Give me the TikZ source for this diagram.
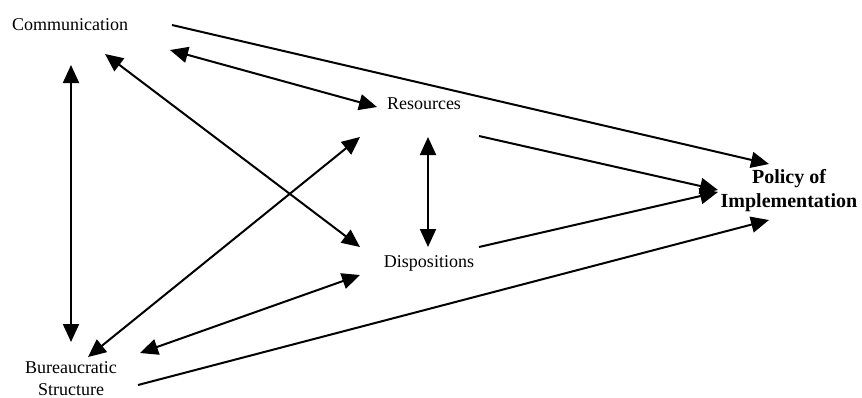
\documentclass[tikz,border=0pt]{standalone}
\usepackage{fontspec}
\setmainfont{Liberation Serif}
\usetikzlibrary{arrows.meta}

\begin{document}
\begin{tikzpicture}[x=0.5pt,y=-0.5pt]
        \tikzstyle{every node}=[inner sep=0pt, font=\fontsize{9}{11}\selectfont]
        \tikzstyle{factor}=[align=center]
        \tikzstyle{goal}=[align=center, font=\fontsize{10}{12}\selectfont\bfseries]
        \tikzstyle{link}=[line width=1pt, -{Triangle[length=9pt,width=8pt]}]
        \tikzstyle{both}=[line width=1pt, {Triangle[length=9pt,width=8pt]}-{Triangle[length=9pt,width=8pt]}]
        \useasboundingbox (0,0) rectangle (862,397);
        % the five variables
        \node[factor] (comm) at (70,25) {Communication};
        \node[factor] (res) at (424,104) {Resources};
        \node[factor] (disp) at (429,263) {Dispositions};
        \node[factor] (bur) at (71,379) {Bureaucratic\\Structure};
        \node[goal] (pol) at (789,191) {Policy of\\Implementation};
        % mutual links
        \draw[both] ([shift={(100,25)}]comm.center) -- ([shift={(-47,3)}]res.center);
        \draw[both] ([shift={(35,29)}]comm.center) -- ([shift={(-69,-16)}]disp.center);
        \draw[both] ([shift={(1,40)}]comm.center) -- ([shift={(0,-37)}]bur.center);
        \draw[both] ([shift={(17,-22)}]bur.center) -- ([shift={(-64,33)}]res.center);
        \draw[both] ([shift={(69,-26)}]bur.center) -- ([shift={(-69,12)}]disp.center);
        \draw[both] ([shift={(4,33)}]res.center) -- ([shift={(-1,-16)}]disp.center);
        % links into the policy
        \draw[link] ([shift={(102,0)}]comm.center) -- ([shift={(-20,-27)}]pol.center);
        \draw[link] ([shift={(55,32)}]res.center) -- ([shift={(-71,-1)}]pol.center);
        \draw[link] ([shift={(50,-16)}]disp.center) -- ([shift={(-71,1)}]pol.center);
        \draw[link] ([shift={(67,6)}]bur.center) -- ([shift={(-20,29)}]pol.center);
\end{tikzpicture}
\end{document}
